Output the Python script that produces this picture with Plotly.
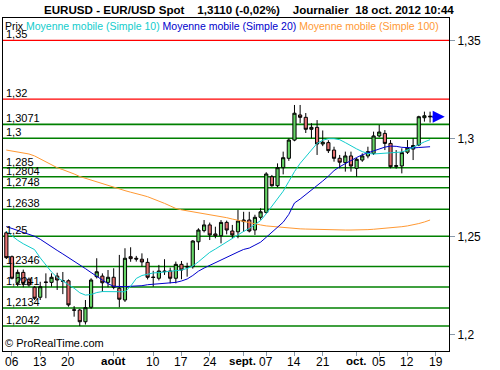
import numpy as np
import pandas as pd
import plotly.graph_objects as go

# ---------------- data ----------------
dates = pd.bdate_range("2012-07-05", "2012-10-18")

open_ = [1.2518, 1.2396, 1.2260, 1.2316, 1.2281, 1.2240, 1.2189, 1.2267, 1.2265, 1.2297,
         1.2273, 1.2273, 1.2125, 1.2124, 1.2064, 1.2138, 1.2294, 1.2297, 1.2265, 1.2291,
         1.2235, 1.2175, 1.2396, 1.2388, 1.2383, 1.2367, 1.2292, 1.2286, 1.2323, 1.2323,
         1.2286, 1.2357, 1.2346, 1.2345, 1.2472, 1.2529, 1.2558, 1.2512, 1.2503, 1.2571,
         1.2527, 1.2523, 1.2583, 1.2583, 1.2532, 1.2597, 1.2622, 1.2804, 1.2758, 1.2850,
         1.2898, 1.2991, 1.3119, 1.3107, 1.3046, 1.3056, 1.2971, 1.2978, 1.2940, 1.2898,
         1.2876, 1.2910, 1.2847, 1.2889, 1.2910, 1.2923, 1.3012, 1.3025, 1.2974, 1.2857,
         1.2859, 1.2929, 1.2945, 1.2966, 1.3105, 1.3113]
high = [1.2527, 1.2402, 1.2330, 1.2330, 1.2290, 1.2246, 1.2268, 1.2311, 1.2311, 1.2314,
        1.2318, 1.2280, 1.2144, 1.2130, 1.2175, 1.2286, 1.2388, 1.2311, 1.2328, 1.2337,
        1.2405, 1.2439, 1.2444, 1.2400, 1.2413, 1.2388, 1.2324, 1.2354, 1.2383, 1.2340,
        1.2371, 1.2374, 1.2365, 1.2480, 1.2541, 1.2583, 1.2570, 1.2549, 1.2583, 1.2580,
        1.2558, 1.2634, 1.2625, 1.2625, 1.2610, 1.2643, 1.2827, 1.2813, 1.2872, 1.2932,
        1.3000, 1.3170, 1.3170, 1.3129, 1.3077, 1.3093, 1.3040, 1.2990, 1.2957, 1.2915,
        1.2932, 1.2932, 1.2900, 1.2923, 1.2957, 1.3034, 1.3068, 1.3042, 1.2991, 1.2940,
        1.2949, 1.2991, 1.3000, 1.3115, 1.3136, 1.3136]
low = [1.2384, 1.2280, 1.2245, 1.2240, 1.2243, 1.2175, 1.2175, 1.2184, 1.2243, 1.2226,
       1.2205, 1.2141, 1.2090, 1.2042, 1.2050, 1.2130, 1.2285, 1.2217, 1.2240, 1.2230,
       1.2138, 1.2165, 1.2370, 1.2371, 1.2345, 1.2280, 1.2243, 1.2275, 1.2303, 1.2260,
       1.2260, 1.2281, 1.2294, 1.2335, 1.2430, 1.2520, 1.2481, 1.2490, 1.2464, 1.2510,
       1.2490, 1.2490, 1.2523, 1.2520, 1.2507, 1.2585, 1.2615, 1.2753, 1.2750, 1.2816,
       1.2885, 1.2985, 1.3078, 1.3027, 1.3000, 1.2915, 1.2960, 1.2925, 1.2881, 1.2847,
       1.2830, 1.2830, 1.2804, 1.2880, 1.2898, 1.2915, 1.3005, 1.2940, 1.2847, 1.2845,
       1.2821, 1.2920, 1.2889, 1.2960, 1.3085, 1.3080]
close = [1.2391, 1.2286, 1.2316, 1.2260, 1.2252, 1.2184, 1.2243, 1.2265, 1.2291, 1.2277,
         1.2271, 1.2150, 1.2123, 1.2064, 1.2136, 1.2277, 1.2319, 1.2263, 1.2291, 1.2240,
         1.2179, 1.2388, 1.2386, 1.2384, 1.2369, 1.2291, 1.2290, 1.2323, 1.2320, 1.2286,
         1.2357, 1.2328, 1.2344, 1.2476, 1.2532, 1.2558, 1.2507, 1.2503, 1.2571, 1.2532,
         1.2507, 1.2578, 1.2575, 1.2527, 1.2597, 1.2625, 1.2818, 1.2758, 1.2850, 1.2901,
         1.2991, 1.3128, 1.3107, 1.3046, 1.3056, 1.2971, 1.2980, 1.2937, 1.2898, 1.2878,
         1.2910, 1.2859, 1.2893, 1.2910, 1.2932, 1.3012, 1.3032, 1.2974, 1.2855, 1.2860,
         1.2927, 1.2951, 1.2963, 1.3110, 1.3115, 1.3110]

ma10 = [1.2525, 1.2500, 1.2480, 1.2462, 1.2448, 1.2432, 1.2390, 1.2355, 1.2318, 1.2290,
        1.2272, 1.2255, 1.2235, 1.2212, 1.2200, 1.2203, 1.2213, 1.2218, 1.2218, 1.2217,
        1.2215, 1.2217, 1.2245, 1.2285, 1.2300, 1.2308, 1.2313, 1.2315, 1.2318, 1.2320,
        1.2325, 1.2328, 1.2336, 1.2348, 1.2370, 1.2395, 1.2418, 1.2435, 1.2452, 1.2472,
        1.2490, 1.2507, 1.2525, 1.2540, 1.2560, 1.2580, 1.2615, 1.2655, 1.2690, 1.2730,
        1.2780, 1.2830, 1.2872, 1.2906, 1.2945, 1.2974, 1.2990, 1.2998, 1.2998, 1.2993,
        1.2978, 1.2960, 1.2946, 1.2932, 1.2923, 1.2920, 1.2922, 1.2923, 1.2923, 1.2925,
        1.2930, 1.2940, 1.2952, 1.2968, 1.2982, 1.2993]
ma20 = [1.2550, 1.2540, 1.2528, 1.2517, 1.2507, 1.2500, 1.2485, 1.2465, 1.2445, 1.2428,
        1.2410, 1.2392, 1.2370, 1.2352, 1.2335, 1.2315, 1.2295, 1.2275, 1.2258, 1.2245,
        1.2243, 1.2243, 1.2245, 1.2246, 1.2248, 1.2253, 1.2255, 1.2258, 1.2260, 1.2262,
        1.2265, 1.2272, 1.2282, 1.2300, 1.2322, 1.2338, 1.2352, 1.2368, 1.2382, 1.2395,
        1.2408, 1.2420, 1.2433, 1.2440, 1.2455, 1.2470, 1.2495, 1.2520, 1.2545, 1.2572,
        1.2612, 1.2670, 1.2690, 1.2712, 1.2735, 1.2758, 1.2782, 1.2807, 1.2835, 1.2855,
        1.2872, 1.2889, 1.2902, 1.2916, 1.2926, 1.2936, 1.2946, 1.2955, 1.2960, 1.2959,
        1.2954, 1.2952, 1.2951, 1.2953, 1.2955, 1.2957]
ma100 = [1.2940, 1.2935, 1.2930, 1.2927, 1.2920, 1.2910, 1.2895, 1.2880, 1.2865, 1.2850,
         1.2840, 1.2830, 1.2818, 1.2805, 1.2796, 1.2786, 1.2776, 1.2766, 1.2758, 1.2750,
         1.2742, 1.2733, 1.2725, 1.2716, 1.2710, 1.2702, 1.2692, 1.2680, 1.2668, 1.2655,
         1.2642, 1.2635, 1.2630, 1.2625, 1.2620, 1.2617, 1.2612, 1.2605, 1.2600, 1.2595,
         1.2588, 1.2582, 1.2574, 1.2567, 1.2562, 1.2558, 1.2553, 1.2550, 1.2547, 1.2544,
         1.2542, 1.2540, 1.2538, 1.2537, 1.2536, 1.2535, 1.2533, 1.2532, 1.2532, 1.2532,
         1.2532, 1.2532, 1.2532, 1.2533, 1.2534, 1.2536, 1.2538, 1.2540, 1.2543, 1.2546,
         1.2549, 1.2553, 1.2558, 1.2565, 1.2573, 1.2583]

resistance_levels = [1.35, 1.32]
support_levels = [1.3071, 1.3, 1.285, 1.2804, 1.2748, 1.2638, 1.25,
                  1.2346, 1.2241, 1.2134, 1.2042]

tick_dates = ["2012-07-06", "2012-07-13", "2012-07-20", "2012-08-01", "2012-08-10",
              "2012-08-17", "2012-08-24", "2012-09-03", "2012-09-07", "2012-09-14",
              "2012-09-21", "2012-10-01", "2012-10-05", "2012-10-12", "2012-10-19"]
tick_labels = ["06", "13", "20", "<b>août</b>", "10", "17", "24", "<b>sept.</b>", "07",
               "14", "21", "<b>oct.</b>", "05", "12", "19"]
y_ticks = [1.2, 1.25, 1.3, 1.35]
y_tick_labels = ["1,2", "1,25", "1,3", "1,35"]

title_text = ("EURUSD - EUR/USD Spot&nbsp;&nbsp;&nbsp;&nbsp;1,3110 (-0,02%)&nbsp;&nbsp;&nbsp;&nbsp;"
              "Journalier&nbsp;&nbsp;18 oct. 2012 10:44")

# ---------------- figure ----------------
FONT = "Liberation Sans, Arial, sans-serif"
xi = np.arange(len(dates))
start = dates[0].date()
tickvals = [int(np.busday_count(start, pd.Timestamp(d).date())) for d in tick_dates]

fig = go.Figure()

def fmt(v):
    return f"{v:.4f}".rstrip("0").rstrip(".").replace(".", ",")

for lv in resistance_levels:
    fig.add_hline(y=lv, line=dict(color="#FF0000", width=1.2), layer="below")
for lv in support_levels:
    fig.add_hline(y=lv, line=dict(color="#008000", width=1.6), layer="below")

fig.add_trace(go.Scatter(x=xi, y=ma100, mode="lines", line=dict(color="#FF9933", width=1),
                         hoverinfo="skip"))
fig.add_trace(go.Scatter(x=xi, y=ma20, mode="lines", line=dict(color="#0000CC", width=1),
                         hoverinfo="skip"))
fig.add_trace(go.Scatter(x=xi, y=ma10, mode="lines", line=dict(color="#11CCCC", width=1),
                         hoverinfo="skip"))

fig.add_trace(go.Candlestick(
    x=xi, open=open_, high=high, low=low, close=close,
    increasing=dict(fillcolor="#66D466", line=dict(color="black", width=1)),
    decreasing=dict(fillcolor="#E67272", line=dict(color="black", width=1)),
    whiskerwidth=0,
))

annotations = []
for lv in resistance_levels + support_levels:
    annotations.append(dict(x=0, xref="paper", y=lv, yref="y", text=fmt(lv),
                            xanchor="left", yanchor="bottom", showarrow=False,
                            font=dict(family=FONT, size=11, color="black"),
                            borderpad=0, yshift=-1, xshift=2))

# x-axis tick labels (drawn as annotations so they sit tight under the ticks)
for tv, tl in zip(tickvals, tick_labels):
    bold = tl.startswith("<b>")
    annotations.append(dict(x=tv, xref="x", y=0, yref="paper", text=tl,
                            xanchor="center", yanchor="top", showarrow=False,
                            font=dict(family=FONT, size=11.5 if bold else 12, color="black"),
                            borderpad=0, yshift=-3, xshift=-1 if bold else 0))

annotations.append(dict(
    x=0, xref="paper", y=1, yref="paper", xanchor="left", yanchor="top", showarrow=False,
    xshift=1, yshift=-1,
    text=("Prix <span style='color:#11CCCC'>Moyenne mobile (Simple 10)</span> "
          "<span style='color:#0000CC'>Moyenne mobile (Simple 20)</span> "
          "<span style='color:#FF9933'>Moyenne mobile (Simple 100)</span>"),
    font=dict(family=FONT, size=10.5, color="black"), borderpad=0))

annotations.append(dict(
    x=0.5516, xref="paper", y=1, yref="paper", xanchor="center", yanchor="bottom",
    showarrow=False, text="<b>" + title_text + "</b>",
    font=dict(family=FONT, size=11.6, color="black"), borderpad=0, yshift=1))

annotations.append(dict(
    x=0, xref="paper", y=0, yref="paper", xanchor="left", yanchor="bottom",
    showarrow=False, text="© ProRealTime.com", xshift=1, yshift=1,
    font=dict(family=FONT, size=11, color="black"), borderpad=0))

# arrow on last price
annotations.append(dict(
    x=xi[-1] + 2.6, y=close[-1], xref="x", yref="y",
    ax=xi[-1] + 0.1, ay=close[-1], axref="x", ayref="y",
    showarrow=True, arrowhead=2, arrowsize=1.1, arrowwidth=2.2, arrowcolor="#0000FF",
    text=""))

fig.update_layout(
    width=500, height=370,
    margin=dict(l=3, r=51, t=18, b=19, autoexpand=False),
    paper_bgcolor="white", plot_bgcolor="white",
    showlegend=False,
    boxgap=0.2,
    font=dict(family=FONT, size=11, color="black"),
    annotations=annotations,
    xaxis=dict(
        range=[-0.59, 78.35], rangeslider=dict(visible=False), automargin=False,
        tickmode="array", tickvals=tickvals, showticklabels=False,
        ticks="outside", ticklen=4, tickcolor="#8899AA",
        showgrid=False, zeroline=False,
        showline=True, mirror=True, linecolor="black", linewidth=1,
    ),
    yaxis=dict(
        range=[1.19148, 1.36138], side="right", automargin=False,
        tickmode="array", tickvals=y_ticks, ticktext=y_tick_labels,
        ticks="outside", ticklen=5, tickcolor="#8899AA",
        showgrid=False, zeroline=False,
        showline=True, mirror=True, linecolor="black", linewidth=1,
        tickfont=dict(family=FONT, size=12, color="black"),
    ),
)

fig.write_html("out.html", config={"displayModeBar": False},
               post_script="document.body.style.margin='0';document.body.style.overflow='hidden';")
